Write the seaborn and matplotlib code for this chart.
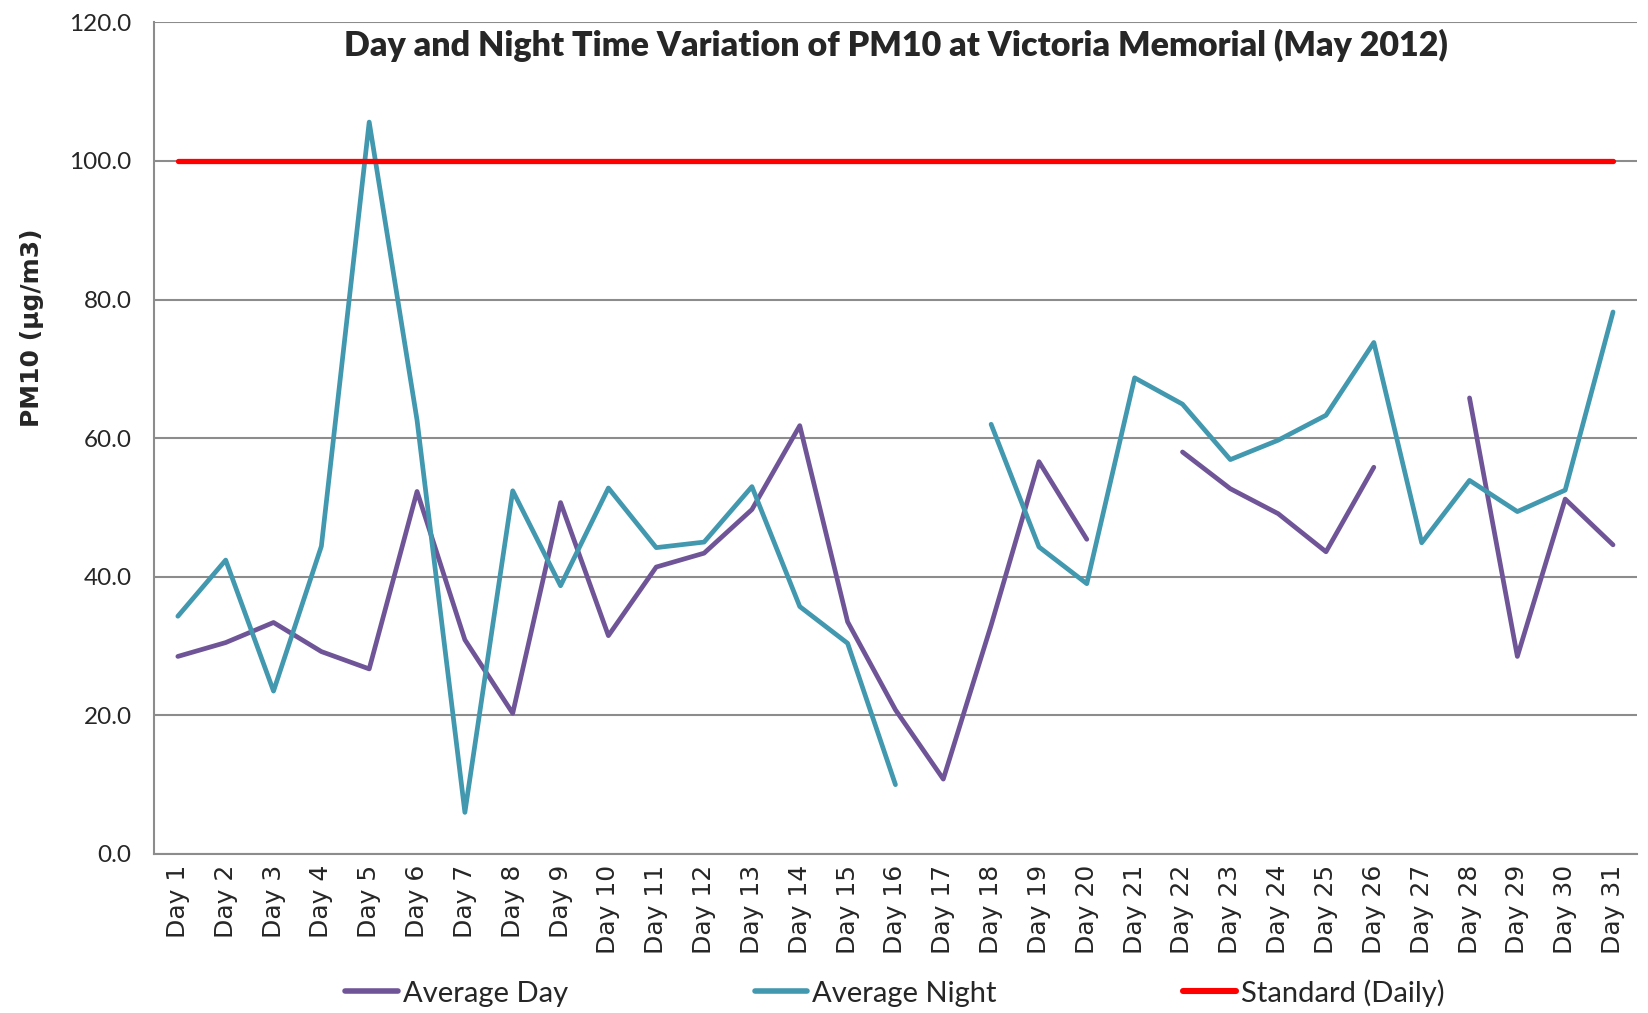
import numpy as np
import pandas as pd
import matplotlib
matplotlib.use("Agg")
import matplotlib.pyplot as plt
import seaborn as sns
from matplotlib.lines import Line2D

# data (NaN = no reading that day)
days = [f"Day {i}" for i in range(1, 32)]
avg_day = [28.5, 30.5, 33.4, 29.2, 26.7, 52.3, 30.9, 20.3, 50.7, 31.5,
           41.4, 43.4, 49.7, 61.8, 33.5, 20.8, 10.8, 33.0, 56.6, 45.4,
           np.nan, 58.0, 52.7, 49.1, 43.6, 55.8, np.nan, 65.8, 28.5, 51.2, 44.6]
avg_night = [34.3, 42.4, 23.5, 44.4, 105.6, 62.6, 6.0, 52.4, 38.7, 52.8,
             44.2, 45.0, 53.0, 35.7, 30.4, 10.0, np.nan, 62.0, 44.3, 39.0,
             68.7, 64.9, 56.9, 59.7, 63.3, 73.8, 44.9, 53.9, 49.4, 52.5, 78.2]
standard = [100.0] * 31

series_names = ["Average Day", "Average Night", "Standard (Daily)"]
series_vals = [avg_day, avg_night, standard]
colors = ["#6F5597", "#4198AF", "#FF0000"]
widths = [3.4, 3.4, 3.8]

sns.set_theme(style="white")
text_font = ["Lato", "DejaVu Sans"]

# long format, one segment id per unbroken run so gaps stay gaps
frames = []
for name, vals in zip(series_names, series_vals):
    v = pd.Series(vals, dtype=float)
    frames.append(pd.DataFrame({"pos": np.arange(len(days)), "pm10": v,
                                "series": name, "seg": v.isna().cumsum()}).dropna())
data = pd.concat(frames, ignore_index=True)

fig = plt.figure(figsize=(16.48, 10.13), dpi=100)
ax = fig.add_axes([0.0934, 0.157, 0.8999, 0.821])

for name, c, lw in zip(series_names, colors, widths):
    sns.lineplot(data=data[data["series"] == name], x="pos", y="pm10", units="seg",
                 estimator=None, color=c, linewidth=lw, ax=ax, legend=False,
                 solid_capstyle="round", solid_joinstyle="round")

ax.set_ylim(0, 120)
ax.set_xlim(-0.5, len(days) - 0.5)
ax.set_yticks(np.arange(0, 121, 20))
ax.set_yticklabels([f"{t:.1f}" for t in np.arange(0, 121, 20)], family=text_font, fontsize=17.5)
ax.yaxis.grid(True, color="#8C8C8C", linewidth=1.5)
ax.set_axisbelow(True)

# ticks between categories, labels at centres
ax.set_xticks(np.arange(-0.5, len(days), 1))
ax.set_xticklabels([])
ax.set_xticks(np.arange(len(days)), minor=True)
ax.set_xticklabels(days, minor=True, rotation=90, fontsize=18, family="DejaVu Sans")
ax.tick_params(axis="x", which="major", length=8, width=1.5, color="#8C8C8C", direction="out")
ax.tick_params(axis="x", which="minor", length=0, pad=8)
ax.tick_params(axis="y", length=6, width=1.5, color="#8C8C8C", direction="out", pad=10)
ax.set_xlabel("")
ax.set_ylabel("")

for side in ["top", "right"]:
    ax.spines[side].set_visible(False)
for side in ["left", "bottom"]:
    ax.spines[side].set_color("#8C8C8C")
    ax.spines[side].set_linewidth(1.5)

ax.text(0.5, 0.992, "Day and Night Time Variation of PM10 at Victoria Memorial (May 2012)",
        transform=ax.transAxes, ha="center", va="top", fontsize=24.5, fontweight="heavy",
        family=text_font)
fig.text(32 / 1648, 1 - 328 / 1013, "PM10 (µg/m3)", rotation=90, ha="center", va="center",
         fontsize=18, fontweight="bold", family="DejaVu Sans")

handles = [Line2D([], [], color=c, linewidth=lw + 0.6, solid_capstyle="round")
           for c, lw in zip(colors, widths)]
fig.legend(handles, series_names, loc="center", bbox_to_anchor=(0.543, 0.02), ncol=3,
           frameon=False, handlelength=1.8, handletextpad=0.17, columnspacing=6.4,
           prop={"family": text_font, "size": 21})

fig.savefig("out.png", dpi=100)
